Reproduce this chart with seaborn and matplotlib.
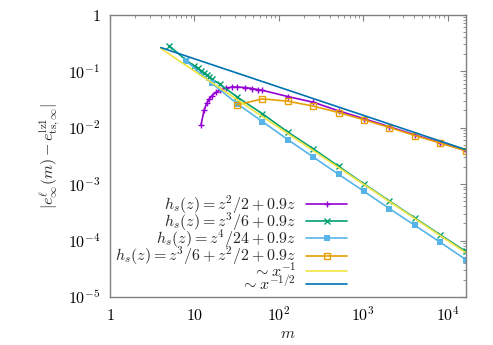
import numpy as np
import pandas as pd
import matplotlib
matplotlib.use("Agg")
import matplotlib.pyplot as plt
import seaborn as sns
from matplotlib.ticker import LogLocator, FixedLocator, NullFormatter

sns.set_theme(style="white")
plt.rcParams['mathtext.fontset'] = 'cm'
plt.rcParams['font.family'] = ['DejaVu Serif']

# ---- data ----
m_purple = [12, 13, 14, 15, 16, 18, 20, 24, 28, 32, 40, 48, 56, 64,
            128, 256, 512, 1024, 2048, 4096, 8192, 16384]
e_purple = [0.0113, 0.020, 0.027, 0.032, 0.036, 0.042, 0.046, 0.050, 0.052, 0.052,
            0.051, 0.049, 0.047, 0.0455, 0.0353, 0.028, 0.0197, 0.0143, 0.0103,
            0.0074, 0.0054, 0.0039]

m_green = [5, 8, 10, 11, 12, 13, 14, 15, 16, 20, 32, 64, 128, 256, 512,
           1024, 2048, 4096, 8192, 16384]
e_green = [0.281, 0.155, 0.123, 0.112, 0.1016, 0.0937, 0.0865, 0.0796, 0.0725,
           0.0585, 0.0348, 0.0175, 0.0083, 0.0042, 0.00205, 0.00100, 0.00050,
           0.00025, 0.000126, 0.000064]

m_lblue = [8, 16, 32, 64, 128, 256, 512, 1024, 2048, 4096, 8192, 16384]
e_lblue = [0.151, 0.061, 0.0265, 0.0127, 0.0061, 0.0030, 0.00148, 0.00074,
           0.000366, 0.000185, 0.000093, 0.000046]

m_orange = [32, 64, 128, 256, 512, 1024, 2048, 4096, 8192, 16384]
e_orange = [0.0252, 0.0321, 0.0292, 0.0239, 0.0184, 0.0137, 0.0100, 0.0072,
            0.0053, 0.00388]

m_ref = [4, 16384]
e_inv = [0.25, 1.0 / 16384]          # ~ x^-1
e_invsqrt = [0.26, 0.52 / 128]       # ~ x^-1/2

labels = [r'$h_s(z) = z^2/2 + 0.9z$',
          r'$h_s(z) = z^3/6 + 0.9z$',
          r'$h_s(z) = z^4/24 + 0.9z$',
          r'$h_s(z) = z^3/6 + z^2/2 + 0.9z$',
          r'$\sim x^{-1}$',
          r'$\sim x^{-1/2}$']
colors = ['#9400D3', '#009E73', '#56B4E9', '#E69F00', '#F0E442', '#0072B2']

fig = plt.figure(figsize=(4.93, 3.45), dpi=100)
ax = fig.add_axes([110/493, 1-297/345, (465.7-110)/493, (297-14.5)/345])

series = [(m_purple, e_purple, dict(marker='+', markersize=5, mew=1.0)),
          (m_green, e_green, dict(marker='x', markersize=4, mew=1.0)),
          (m_lblue, e_lblue, dict(marker='s', markersize=4.5, mew=0)),
          (m_orange, e_orange, dict(marker='s', markersize=5, mfc='none', mew=1.0)),
          (m_ref, e_inv, dict()),
          (m_ref, e_invsqrt, dict())]

for (mx, ey, kw), lab, c in zip(series, labels, colors):
    df = pd.DataFrame({'m': mx, 'e': ey})
    sns.lineplot(data=df, x='m', y='e', ax=ax, color=c, label=lab, lw=1.2,
                 markeredgecolor=c, estimator=None, sort=True, **kw)

ax.set_xscale('log')
ax.set_yscale('log')
ax.set_xlim(1, 16384)
ax.set_ylim(1e-5, 1)

ax.xaxis.set_major_locator(FixedLocator([1, 10, 100, 1000, 10000]))
ax.set_xticklabels([r'$1$', r'$10$', r'$10^2$', r'$10^3$', r'$10^4$'])
ax.yaxis.set_major_locator(FixedLocator([1e-5, 1e-4, 1e-3, 1e-2, 1e-1, 1]))
ax.set_yticklabels([r'$10^{-5}$', r'$10^{-4}$', r'$10^{-3}$', r'$10^{-2}$',
                    r'$10^{-1}$', r'$1$'])
ax.xaxis.set_minor_locator(LogLocator(base=10, subs=np.arange(2, 10), numticks=20))
ax.yaxis.set_minor_locator(LogLocator(base=10, subs=np.arange(2, 10), numticks=20))
ax.xaxis.set_minor_formatter(NullFormatter())
ax.yaxis.set_minor_formatter(NullFormatter())

ax.tick_params(which='both', direction='in', top=True, right=True,
               color='#808080', labelsize=11.5, labelcolor='black')
ax.tick_params(which='major', length=4.5, width=0.8, pad=7)
ax.tick_params(which='minor', length=2.5, width=0.6)
for s in ax.spines.values():
    s.set_color('#808080')
    s.set_linewidth(1.0)

ax.set_xlabel(r'$m$', fontsize=11.5, labelpad=0)
ax.set_ylabel(r'$|e^{\ell}_{\infty}(m) - e^{\mathrm{lz1}}_{\mathrm{ts},\infty}|$',
              fontsize=11.5, labelpad=4)

ax.legend(loc='lower right', bbox_to_anchor=(0.672, 0.005), frameon=False,
          markerfirst=False, fontsize=11.5, handlelength=2.6, handletextpad=0.6,
          labelspacing=-0.33, borderpad=0.1, borderaxespad=0.0, numpoints=1)

fig.savefig('out.png', dpi=100)
